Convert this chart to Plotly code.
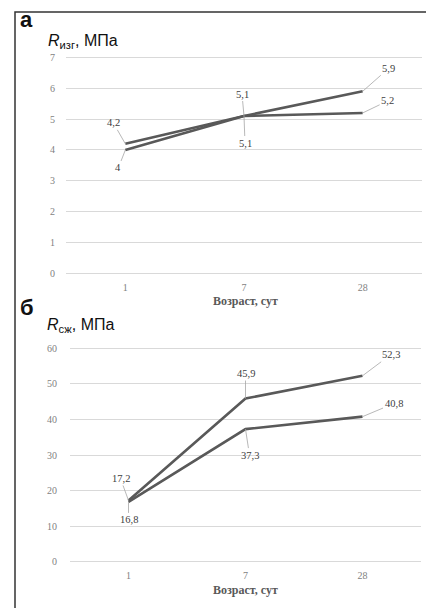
import plotly.graph_objects as go

# The page body has an 8px margin, so the figure is drawn 8px right/down.
OFF = 8
W, H = 434 - OFF, 608 - OFF

# ---- data ----
ages = ["1", "7", "28"]
bend_a = [4.2, 5.1, 5.2]
bend_b = [4.0, 5.1, 5.9]
comp_a = [17.2, 45.9, 52.3]
comp_b = [16.8, 37.3, 40.8]
bend_ticks = [0, 1, 2, 3, 4, 5, 6, 7]
comp_ticks = [0, 10, 20, 30, 40, 50, 60]
x_title = "Возраст, сут"

LINE = "#595959"
GRID = "#d9d9d9"
TICKC = "#7f7f7f"
SERIF = "Liberation Serif, Times New Roman, serif"
SANS = "Liberation Sans, Arial, sans-serif"


def px_x(p):
    return (p - OFF) / W


def px_y(p):
    return 1 - (p - OFF) / H


fig = go.Figure()
for ys in (bend_a, bend_b):
    fig.add_trace(go.Scatter(x=ages, y=ys, mode="lines", xaxis="x", yaxis="y",
                             line=dict(color=LINE, width=2.6), showlegend=False,
                             hoverinfo="skip"))
for ys in (comp_a, comp_b):
    fig.add_trace(go.Scatter(x=ages, y=ys, mode="lines", xaxis="x2", yaxis="y2",
                             line=dict(color=LINE, width=2.6), showlegend=False,
                             hoverinfo="skip"))

axis_common = dict(showline=False, zeroline=False, ticks="",
                   tickfont=dict(family=SERIF, size=10, color=TICKC),
                   fixedrange=True)
xcat = dict(type="category", categoryorder="array", categoryarray=ages,
            range=[-0.5, len(ages) - 0.5], showgrid=False, ticklabelstandoff=5)

fig.update_layout(
    width=W, height=H,
    margin=dict(l=0, r=0, t=0, b=0),
    paper_bgcolor="white", plot_bgcolor="white",
    xaxis=dict(domain=[px_x(66), px_x(422)], anchor="y", **xcat, **axis_common),
    yaxis=dict(domain=[px_y(274.6), px_y(52.4)], anchor="x", range=[-0.05, 7.05],
               tickvals=bend_ticks, showgrid=True, gridcolor=GRID, gridwidth=1,
               ticklabelstandoff=10, **axis_common),
    xaxis2=dict(domain=[px_x(70), px_x(421)], anchor="y2", **xcat, **axis_common),
    yaxis2=dict(domain=[px_y(566.8), px_y(347.2)], anchor="x2", range=[-0.5, 60.5],
                tickvals=comp_ticks, showgrid=True, gridcolor=GRID, gridwidth=1,
                ticklabelstandoff=12, **axis_common),
)


def fmt(v):
    return ("%g" % v).replace(".", ",")


ann = []


def label(xref, yref, i, yv, ax, ay):
    # on a category axis, annotations take the category index
    ann.append(dict(x=i, y=yv, xref=xref, yref=yref, text=fmt(yv),
                    showarrow=True, arrowhead=0, arrowwidth=0.8,
                    arrowcolor="#a6a6a6", ax=ax, ay=ay, standoff=0,
                    font=dict(family=SERIF, size=10.5, color="#404040")))


# bending panel labels
label("x", "y", 0, bend_a[0], -12, -21)
label("x", "y", 0, bend_b[0], -7, 18)
label("x", "y", 1, bend_a[1], -2, -22)
label("x", "y", 1, bend_b[1], 1, 27)
label("x", "y", 2, bend_b[2], 26, -23)
label("x", "y", 2, bend_a[2], 25, -12)
# compression panel labels
label("x2", "y2", 0, comp_a[0], -8, -22)
label("x2", "y2", 0, comp_b[0], 0, 18)
label("x2", "y2", 1, comp_a[1], 0, -25)
label("x2", "y2", 1, comp_b[1], 4, 26)
label("x2", "y2", 2, comp_a[2], 28, -21)
label("x2", "y2", 2, comp_b[2], 31, -13)


def paper_text(x, y, text, font, xanchor="center"):
    ann.append(dict(x=px_x(x), y=px_y(y), xref="paper", yref="paper", text=text,
                    showarrow=False, xanchor=xanchor, yanchor="middle", font=font))


# axis titles
for yy in (301, 594):
    paper_text(245, yy, "<b>" + x_title + "</b>",
               dict(family=SERIF, size=12, color="#595959"))

# panel letters and units
paper_text(18, 16, "<b>а</b>", dict(family=SANS, size=22, color="#111111"), "left")
paper_text(46, 38, "<i>R</i><sub>изг</sub>, МПа",
           dict(family=SANS, size=16, color="#111111"), "left")
paper_text(18, 307, "<b>б</b>", dict(family=SANS, size=22, color="#111111"), "left")
paper_text(45, 326, "<i>R</i><sub>сж</sub>, МПа",
           dict(family=SANS, size=16, color="#111111"), "left")

fig.update_layout(annotations=ann)

# outer frame (open at the bottom, as in the cropped reference)
fig.add_shape(type="rect", xref="paper", yref="paper",
              x0=px_x(15), x1=px_x(432), y0=-0.05, y1=px_y(8),
              line=dict(color="#333333", width=1.5), layer="above")

fig.write_html("out.html")
